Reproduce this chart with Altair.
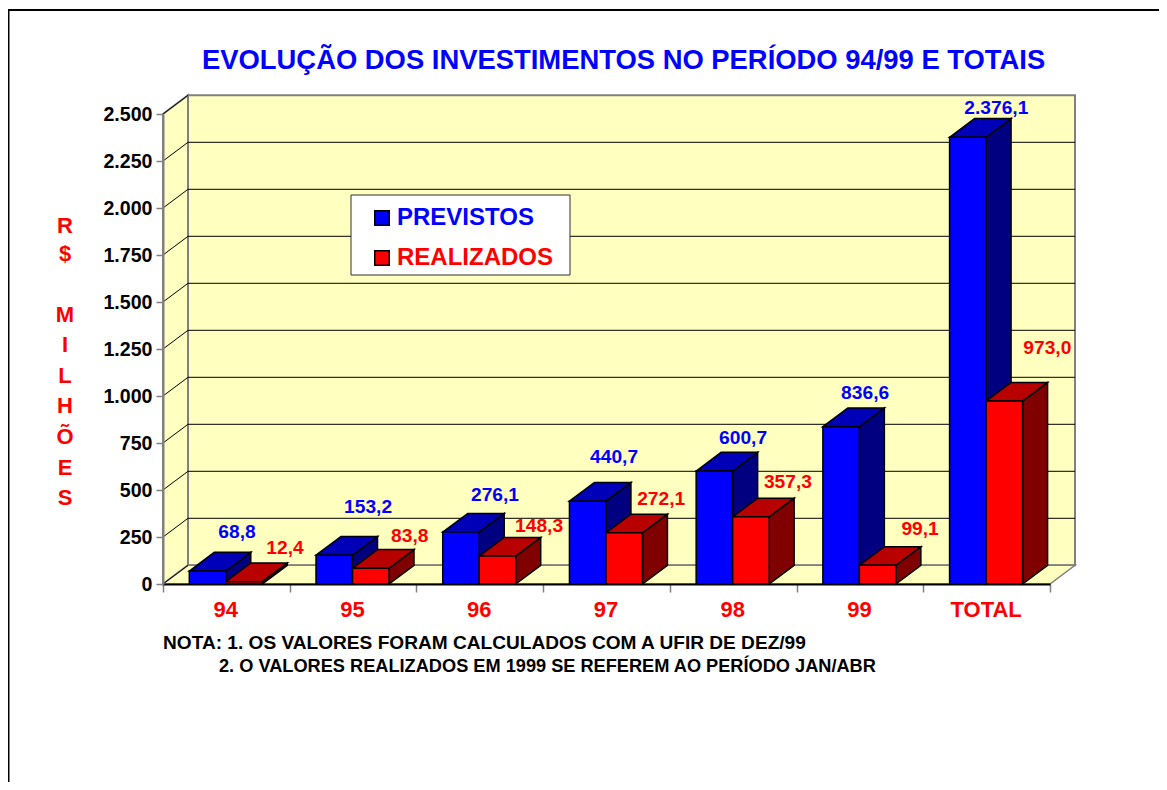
import json
import altair as alt
import pandas as pd

# ---- chart values ----
CATEGORIES = ["94", "95", "96", "97", "98", "99", "TOTAL"]
PREVISTOS = [68.8, 153.2, 276.1, 440.7, 600.7, 836.6, 2376.1]
REALIZADOS = [12.4, 83.8, 148.3, 272.1, 357.3, 99.1, 973.0]
PREV_LABELS = ["68,8", "153,2", "276,1", "440,7", "600,7", "836,6", "2.376,1"]
REAL_LABELS = ["12,4", "83,8", "148,3", "272,1", "357,3", "99,1", "973,0"]
SERIES = ["PREVISTOS", "REALIZADOS"]
TITLE = "EVOLUÇÃO DOS INVESTIMENTOS NO PERÍODO 94/99 E TOTAIS"
NOTE_1 = "NOTA: 1. OS VALORES FORAM CALCULADOS COM A UFIR DE DEZ/99"
NOTE_2 = "2. O VALORES REALIZADOS EM 1999 SE REFEREM AO PERÍODO JAN/ABR"
UNIT_1 = ["R", "$"]
UNIT_2 = ["M", "I", "L", "H", "Õ", "E", "S"]
TICKS = [0, 250, 500, 750, 1000, 1250, 1500, 1750, 2000, 2250, 2500]

# ---- layout and style ----
W, H = 887, 470
PAD = {"left": 155, "top": 106, "right": 109, "bottom": 198}
YMAX = 2500
NCAT = len(CATEGORIES)
PX = W / NCAT
PY = H / YMAX
DX = 25 / PX      # depth, x scale units
DY = 18.7 / PY    # depth, y scale units
BAR_W = 0.288
BAR_START = 0.2075
FONT = "Liberation Sans"
BLUE, BLUE_TOP, BLUE_SIDE = "#0000FF", "#0000B8", "#000080"
RED, RED_TOP, RED_SIDE = "#FF0000", "#B80000", "#800000"
WALL = "#FFFFC0"
GRAY = "#808080"
PREV_NUDGE = [(4.5, 20), (8.8, 29.5), (9, 18), (1.4, 25), (3.7, 14), (-1, 15), (3.5, 11)]
REAL_NUDGE = [(16, 15), (14, 13.5), (16.6, 11.4), (12, 15), (12, 16), (17.5, 17.7), (18, 34)]

category_expr = "%s[datum.value]" % json.dumps(CATEGORIES + [""])

xs = alt.Scale(domain=[0, NCAT], nice=False, zero=False)
ys = alt.Scale(domain=[0, YMAX], nice=False)
x_axis = alt.Axis(
    values=list(range(NCAT + 1)),
    title=None,
    grid=False,
    labelExpr=category_expr,
    labelOffset=PX / 2 - 1,
    labelFont=FONT,
    labelFontWeight="bold",
    labelFontSize=22,
    labelColor=RED,
    labelOverlap=False,
    labelFlush=False,
    labelPadding=7,
    tickSize=8,
    tickColor=GRAY,
    tickWidth=1.5,
    domainColor="black",
    domainWidth=2,
    zindex=1,
)
y_axis = alt.Axis(
    values=TICKS,
    title=None,
    grid=False,
    labelExpr="replace(format(datum.value, ','), ',', '.')",
    labelFont=FONT,
    labelFontWeight="bold",
    labelFontSize=19.6,
    labelColor="black",
    labelOverlap=False,
    labelFlush=False,
    labelPadding=4,
    tickSize=7,
    tickColor=GRAY,
    tickWidth=1.5,
    domainColor=GRAY,
    domainWidth=2,
    zindex=1,
)
X = alt.X("x:Q", scale=xs, axis=x_axis)
Y = alt.Y("y:Q", scale=ys, axis=y_axis, stack=None)
X2 = alt.X2("x2:Q")
Y2 = alt.Y2("y2:Q")


def side_rows(values, offset):
    rows = []
    for i, v in enumerate(values):
        xr = i + BAR_START + offset + BAR_W
        rows += [
            {"id": i, "x": xr, "y": v, "y2": 0},
            {"id": i, "x": xr + DX, "y": v + DY, "y2": DY},
        ]
    return pd.DataFrame(rows)


def top_rows(values, offset):
    rows = []
    for i, v in enumerate(values):
        xl = i + BAR_START + offset
        xr = xl + BAR_W
        rows += [
            {"id": i, "x": xl, "y": v, "y2": v},
            {"id": i, "x": xl + DX, "y": v + DY, "y2": v},
            {"id": i, "x": xr, "y": v + DY, "y2": v},
            {"id": i, "x": xr + DX, "y": v + DY, "y2": v + DY},
        ]
    return pd.DataFrame(rows)


def front_rows():
    rows = []
    for k, (name, values) in enumerate(zip(SERIES, [PREVISTOS, REALIZADOS])):
        for i, v in enumerate(values):
            xl = i + BAR_START + k * BAR_W
            rows.append({"serie": name, "x": xl, "x2": xl + BAR_W, "y": v, "y2": 0})
    return pd.DataFrame(rows)


def label_rows(values, labels, nudges, offset):
    rows = []
    for i, (v, t, (nx, ny)) in enumerate(zip(values, labels, nudges)):
        rows.append({
            "x": i + BAR_START + offset + BAR_W / 2 + DX + nx / PX,
            "y": v + DY + ny / PY,
            "t": t,
        })
    return pd.DataFrame(rows)


def area(df, fill, stroke="black", width=1.5):
    return alt.Chart(df).mark_area(
        fill=fill, stroke=stroke, strokeWidth=width, orient="vertical", opacity=1
    ).encode(x=X, y=Y, y2=Y2, detail="id:N")


back = pd.DataFrame([{"x": DX, "x2": NCAT + DX, "y": DY, "y2": YMAX + DY}])
wall = alt.Chart(back).mark_rect(fill=WALL, stroke=GRAY, strokeWidth=2).encode(
    x=X, x2=X2, y=Y, y2=Y2
)

left_wall = area(
    pd.DataFrame([
        {"id": 0, "x": 0, "y": 0, "y2": YMAX},
        {"id": 0, "x": DX, "y": DY, "y2": YMAX + DY},
    ]),
    WALL, GRAY, 2,
)
floor = area(
    pd.DataFrame([
        {"id": 0, "x": 0, "y": 0, "y2": 0},
        {"id": 0, "x": DX, "y": DY, "y2": 0},
        {"id": 0, "x": NCAT, "y": DY, "y2": 0},
        {"id": 0, "x": NCAT + DX, "y": DY, "y2": DY},
    ]),
    WALL, GRAY, 1.5,
)

grid_rows = pd.DataFrame(
    [{"id": v, "x": DX, "x2": NCAT + DX, "y": v + DY, "y2": v + DY} for v in TICKS[1:-1]]
)
grid_back = alt.Chart(grid_rows).mark_rule(color="black", strokeWidth=1).encode(
    x=X, x2=X2, y=Y
)
diag_rows = pd.DataFrame(
    [r for v in TICKS for r in ({"id": v, "x": 0, "y": v}, {"id": v, "x": DX, "y": v + DY})]
)
grid_left = alt.Chart(diag_rows).mark_line(color="black", strokeWidth=1).encode(
    x=X, y=Y, detail="id:N"
)

fronts = alt.Chart(front_rows()).mark_rect(stroke="black", strokeWidth=1.5).encode(
    x=X,
    x2=X2,
    y=Y,
    y2=Y2,
    color=alt.Color(
        "serie:N",
        scale=alt.Scale(domain=SERIES, range=[BLUE, RED]),
        legend=alt.Legend(
            title=None,
            orient="none",
            legendX=207,
            legendY=92,
            symbolType="square",
            symbolSize=210,
            symbolStrokeColor="black",
            symbolStrokeWidth=1.5,
            symbolOpacity=1,
            labelFont=FONT,
            labelFontWeight="bold",
            labelFontSize=24,
            labelColor={"expr": "datum.label == 'PREVISTOS' ? '%s' : '%s'" % (BLUE, RED)},
            labelOffset=3,
            rowPadding=16,
            padding=0,
        ),
    ),
)

legend_box = alt.Chart(pd.DataFrame({"a": [0]})).mark_rect(
    fill="white", stroke="#303030", strokeWidth=1
).encode(x=alt.value(188), x2=alt.value(407), y=alt.value(81), y2=alt.value(161))


def text_layer(df, color, size=19.2):
    return alt.Chart(df).mark_text(
        font=FONT, fontWeight="bold", fontSize=size, color=color, baseline="middle", align="center"
    ).encode(x=X, y=Y, text="t:N")


def note(text, px, py, size):
    return alt.Chart(pd.DataFrame({"t": [text]})).mark_text(
        font=FONT, fontWeight="bold", fontSize=size, color="black", align="left", baseline="middle"
    ).encode(x=alt.value(px), y=alt.value(py), text="t:N")


def unit(lines, py, line_height):
    return alt.Chart(pd.DataFrame({"a": [0]})).mark_text(
        text=lines,
        font=FONT,
        fontWeight="bold",
        fontSize=22,
        color=RED,
        align="center",
        baseline="top",
        lineHeight=line_height,
    ).encode(x=alt.value(-98), y=alt.value(py))


frame_top = alt.Chart(pd.DataFrame({"a": [0]})).mark_rule(color="black", strokeWidth=2).encode(
    x=alt.value(-PAD["left"]), x2=alt.value(W + PAD["right"]), y=alt.value(-104)
)
frame_left = alt.Chart(pd.DataFrame({"a": [0]})).mark_rule(color="black", strokeWidth=2).encode(
    x=alt.value(-PAD["left"] + 0.5), y=alt.value(-105), y2=alt.value(H + PAD["bottom"])
)

chart = alt.layer(
    frame_top,
    frame_left,
    wall,
    left_wall,
    floor,
    grid_back,
    grid_left,
    legend_box,
    area(side_rows(PREVISTOS, 0), BLUE_SIDE),
    area(top_rows(PREVISTOS, 0), BLUE_TOP),
    area(side_rows(REALIZADOS, BAR_W), RED_SIDE),
    area(top_rows(REALIZADOS, BAR_W), RED_TOP),
    fronts,
    text_layer(label_rows(PREVISTOS, PREV_LABELS, PREV_NUDGE, 0), BLUE),
    text_layer(label_rows(REALIZADOS, REAL_LABELS, REAL_NUDGE, BAR_W), RED),
    note(NOTE_1, 0, 529, 19.1),
    note(NOTE_2, 56, 553, 18.2),
    unit(UNIT_1, 101.5, 28),
    unit(UNIT_2, 190.5, 30.6),
).properties(
    width=W,
    height=H,
    padding=PAD,
    autosize=alt.AutoSizeParams(type="none"),
    background="white",
    title=alt.TitleParams(
        TITLE,
        font=FONT,
        fontWeight="bold",
        fontSize=27.4,
        color=BLUE,
        anchor="start",
        frame="group",
        dx=39,
        offset=-66,
    ),
).configure_view(stroke=None)

chart.save("out.html", embed_options={"renderer": "svg", "actions": False})
